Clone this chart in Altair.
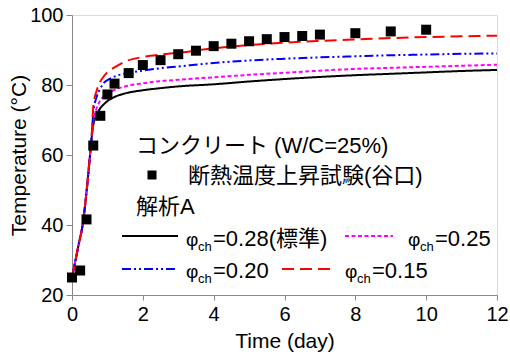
import altair as alt
import pandas as pd

# ---------------- data ----------------
t_curve = [0, 0.1, 0.2, 0.3, 0.4, 0.5, 0.55, 0.6, 0.7, 0.8, 0.9, 1.0, 1.25, 1.5,
           2, 2.5, 3, 4, 5, 6, 7, 8, 9, 10, 11, 12]
T_028 = [25, 30, 35, 40, 48.5, 59, 64.5, 68.5, 71.5, 73.4, 74.5, 75.4, 76.8, 77.6,
         78.5, 79.1, 79.6, 80.2, 81.0, 81.7, 82.3, 82.8, 83.2, 83.6, 84.0, 84.3]
T_025 = [25, 30, 35, 40, 48.5, 59, 64.5, 69.5, 73.5, 75.6, 76.8, 77.5, 78.8, 79.6,
         80.5, 81.1, 81.5, 82.2, 82.9, 83.5, 84.1, 84.6, 84.9, 85.2, 85.5, 85.8]
T_020 = [25, 30, 35, 40, 48.5, 59, 64.5, 72.0, 76.7, 79.0, 80.6, 81.4, 82.6, 83.3,
         84.1, 84.8, 85.3, 86.3, 87.0, 87.5, 87.9, 88.2, 88.5, 88.7, 88.9, 89.0]
T_015 = [25, 30, 35, 40, 48.5, 59, 64.5, 73.8, 78.5, 81.0, 82.5, 83.6, 85.3, 86.7,
         88.0, 88.7, 89.2, 90.5, 91.4, 92.1, 92.6, 93.0, 93.4, 93.7, 93.9, 94.1]

t_exp = [0, 0.23, 0.41, 0.6, 0.8, 1.0, 1.2, 1.6, 2.0, 2.5, 3.0, 3.5, 4.0, 4.5,
         5.0, 5.5, 6.0, 6.5, 7.0, 8.0, 9.0, 10.0]
T_exp = [25, 27, 41.6, 62.7, 71.2, 77.3, 80.4, 83.4, 85.7, 87.1, 88.8, 89.8, 91.1,
         91.8, 92.5, 93.1, 93.7, 94.0, 94.4, 94.8, 95.3, 95.8]

series_names = ["0.28", "0.25", "0.20", "0.15"]
series_vals = [T_028, T_025, T_020, T_015]
series_colors = ["#000000", "#ff00ff", "#0000ff", "#ff0000"]
series_dash = [[1, 0], [4, 2.5], [9, 3, 2, 3, 2, 3], [12, 6]]

x_ticks = list(range(0, 13))
y_ticks = list(range(20, 101, 10))

FONT = "Liberation Sans, Arial, Noto Sans CJK JP"

rows = []
for name, vals in zip(series_names, series_vals):
    for t, v in zip(t_curve, vals):
        rows.append({"t": t, "T": v, "s": name})
df_curve = pd.DataFrame(rows)
df_exp = pd.DataFrame({"t": t_exp, "T": T_exp})

x_scale = alt.Scale(domain=[0, 12], nice=False, zero=False)
y_scale = alt.Scale(domain=[20, 100], nice=False, zero=False)

x_axis = alt.Axis(
    values=x_ticks,
    labelExpr="datum.value % 2 === 0 ? datum.label : ''",
    tickSize={"condition": {"test": "datum.value % 2 === 0", "value": 5}, "value": 3},
    grid=False, labelFlush=False, labelOverlap=False,
    title="Time (day)", labelFontSize=20, titleFontSize=21,
    titleFontWeight="normal", labelPadding=4, titlePadding=6,
)
y_axis = alt.Axis(
    values=y_ticks,
    labelExpr="datum.value % 20 === 0 ? datum.label : ''",
    tickSize={"condition": {"test": "datum.value % 20 === 0", "value": 6}, "value": 3},
    grid=False, labelFlush=False, labelOverlap=False,
    title="Temperature (°C)", labelFontSize=20, titleFontSize=21,
    titleFontWeight="normal", labelPadding=3, titlePadding=0,
)

curves = alt.Chart(df_curve).mark_line(strokeWidth=2, interpolate="monotone").encode(
    x=alt.X("t:Q", scale=x_scale, axis=x_axis),
    y=alt.Y("T:Q", scale=y_scale, axis=y_axis),
    color=alt.Color("s:N", scale=alt.Scale(domain=series_names, range=series_colors), legend=None),
    strokeDash=alt.StrokeDash("s:N", scale=alt.Scale(domain=series_names, range=series_dash), legend=None),
    detail="s:N",
)

points = alt.Chart(df_exp).mark_square(size=100, color="black", opacity=1, filled=True).encode(
    x=alt.X("t:Q", scale=x_scale),
    y=alt.Y("T:Q", scale=y_scale),
)

# ---------------- legend (annotation inside plot) ----------------
OX, OY = 72, 15  # plot origin in page pixels


def txt(s, x, y, size=22, align="left", baseline="alphabetic"):
    return alt.Chart().mark_text(
        text=s, font=FONT, fontSize=size, align=align, baseline=baseline, color="black"
    ).encode(x=alt.value(x - OX), y=alt.value(y - OY))


def sample(x1, x2, y, color, dash):
    return alt.Chart().mark_rule(color=color, strokeWidth=2, strokeDash=dash).encode(
        x=alt.value(x1 - OX), x2=alt.value(x2 - OX), y=alt.value(y - OY)
    )


def phi_label(value_text, x, y):
    return [
        txt("φ", x, y, 19),
        txt("ch", x + 12, y + 5, 13),
        txt(value_text, x + 27, y, 22),
    ]


legend_layers = [
    txt("コンクリート (W/C=25%)", 136, 153),
    alt.Chart().mark_square(size=81, color="black", opacity=1, filled=True).encode(
        x=alt.value(152 - OX), y=alt.value(175 - OY)),
    txt("断熱温度上昇試験(谷口)", 188, 183),
    txt("解析A", 136, 214),
    sample(122, 178, 236, series_colors[0], series_dash[0]),
    *phi_label("=0.28(標準)", 186, 245.5),
    sample(345, 393, 236, series_colors[1], series_dash[1]),
    *phi_label("=0.25", 408, 245.5),
    sample(122, 178, 269, series_colors[2], series_dash[2]),
    *phi_label("=0.20", 186, 278),
    sample(282, 333, 269, series_colors[3], series_dash[3]),
    *phi_label("=0.15", 345, 278),
]

chart = alt.layer(curves, points, *legend_layers).properties(
    width=425, height=280,
    padding={"left": 72, "top": 15, "right": 13, "bottom": 63},
    autosize=alt.AutoSizeParams(type="none"),
).configure_view(
    stroke="black", strokeWidth=1
).configure_axis(
    domainColor="black", tickColor="black", labelColor="black", titleColor="black",
    labelFont=FONT, titleFont=FONT, titleFontWeight="normal", domainWidth=1, tickWidth=1,
).configure(background="white")

chart.save("out.html", embed_options={"renderer": "svg", "actions": False})
